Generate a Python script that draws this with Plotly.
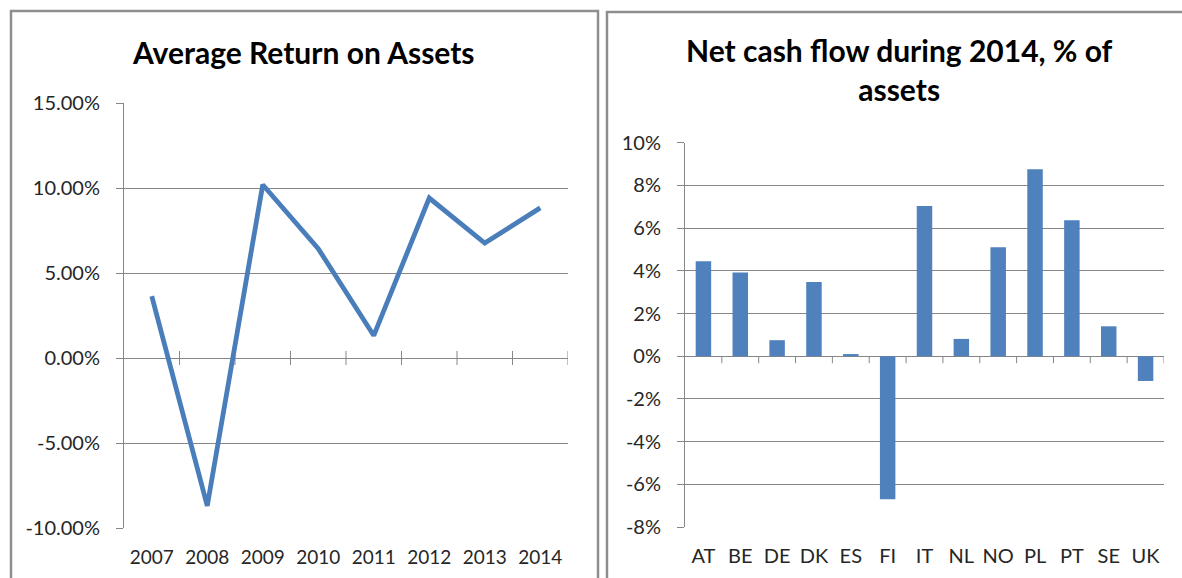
import plotly.graph_objects as go

# ---- data ----
years = ["2007", "2008", "2009", "2010", "2011", "2012", "2013", "2014"]
avg_roa = [0.0364, -0.087, 0.1019, 0.0643, 0.0132, 0.0941, 0.0676, 0.0883]
roa_ticks = [-0.10, -0.05, 0.0, 0.05, 0.10, 0.15]
roa_tick_labels = ["-10.00%", "-5.00%", "0.00%", "5.00%", "10.00%", "15.00%"]

countries = ["AT", "BE", "DE", "DK", "ES", "FI", "IT", "NL", "NO", "PL", "PT", "SE", "UK"]
net_cash_flow = [0.0445, 0.0392, 0.0075, 0.0347, 0.0010, -0.0670, 0.0703, 0.0081,
                 0.0510, 0.0876, 0.0637, 0.0140, -0.0116]
ncf_ticks = [-0.08, -0.06, -0.04, -0.02, 0.0, 0.02, 0.04, 0.06, 0.08, 0.10]
ncf_tick_labels = ["-8%", "-6%", "-4%", "-2%", "0%", "2%", "4%", "6%", "8%", "10%"]

title_left = "Average Return on Assets"
title_right = "Net cash flow during 2014, % of<br>assets"

# ---- style ----
W, H = 1182, 578
BLUE_LINE = "#4A7EBB"
BLUE_BAR = "#4F81BD"
GRID = "#868686"
BORDER = "#8E8E8E"
FONT = "Lato"
TICK_COLOR = "#262626"

def px(x):
    return x / W

def py(y):
    return 1 - y / H

fig = go.Figure()

fig.add_trace(go.Scatter(
    x=years, y=avg_roa, mode="lines",
    line=dict(color=BLUE_LINE, width=4.8),
    xaxis="x", yaxis="y", showlegend=False, hoverinfo="x+y",
))

fig.add_trace(go.Bar(
    x=countries, y=net_cash_flow,
    marker=dict(color=BLUE_BAR, line=dict(width=0)),
    xaxis="x2", yaxis="y2", showlegend=False,
))

year_font = dict(family=FONT, size=19, color=TICK_COLOR)
axis_font = dict(family=FONT, size=20, color=TICK_COLOR)

fig.update_layout(
    width=W, height=H,
    margin=dict(l=0, r=0, t=0, b=0),
    paper_bgcolor="white", plot_bgcolor="white",
    bargap=0.58,
    xaxis=dict(
        domain=[px(124), px(568)], anchor="y", type="category",
        range=[-0.5, len(years) - 0.5], automargin=False,
        showgrid=False, zeroline=False, showline=False,
        ticks="", tickfont=year_font, ticklabelstandoff=16,
    ),
    yaxis=dict(
        domain=[py(528), py(103)], anchor="x", automargin=False,
        range=[-0.10, 0.15], tickmode="array",
        tickvals=roa_ticks, ticktext=roa_tick_labels,
        showgrid=True, gridcolor=GRID, gridwidth=1,
        zeroline=True, zerolinecolor=GRID, zerolinewidth=1,
        showline=True, linecolor=GRID, linewidth=1,
        ticks="outside", ticklen=7, tickcolor=GRID,
        tickfont=axis_font, ticklabelstandoff=12,
    ),
    xaxis2=dict(
        domain=[px(685), px(1164)], anchor="y2", type="category",
        range=[-0.5, len(countries) - 0.5], automargin=False,
        showgrid=False, zeroline=False, showline=False,
        ticks="", tickfont=axis_font, ticklabelstandoff=15,
    ),
    yaxis2=dict(
        domain=[py(527), py(142.7)], anchor="x2", automargin=False,
        range=[-0.08, 0.10], tickmode="array",
        tickvals=ncf_ticks, ticktext=ncf_tick_labels,
        showgrid=True, gridcolor=GRID, gridwidth=1,
        zeroline=True, zerolinecolor=GRID, zerolinewidth=1,
        showline=True, linecolor=GRID, linewidth=1,
        ticks="outside", ticklen=7, tickcolor=GRID,
        tickfont=axis_font, ticklabelstandoff=12,
    ),
)

# category-boundary tick marks on the zero line
shapes = []
for i in range(len(years)):
    shapes.append(dict(type="line", xref="x", yref="y", ysizemode="pixel",
                       yanchor=0, x0=i + 0.5, x1=i + 0.5, y0=-7, y1=7,
                       line=dict(color=GRID, width=1), layer="below"))
for i in range(len(countries)):
    shapes.append(dict(type="line", xref="x2", yref="y2", ysizemode="pixel",
                       yanchor=0, x0=i + 0.5, x1=i + 0.5, y0=-7, y1=0,
                       line=dict(color=GRID, width=1), layer="below"))

# chart-area borders
shapes.append(dict(type="rect", xref="paper", yref="paper",
                   x0=px(11), x1=px(598), y0=-0.1, y1=py(11),
                   line=dict(color=BORDER, width=2.5), fillcolor="rgba(0,0,0,0)"))
shapes.append(dict(type="rect", xref="paper", yref="paper",
                   x0=px(607), x1=1.1, y0=-0.1, y1=py(12),
                   line=dict(color=BORDER, width=2.5), fillcolor="rgba(0,0,0,0)"))
fig.update_layout(shapes=shapes)

title_font = dict(family=FONT, size=30, color="black")
fig.add_annotation(text="<b>" + title_left + "</b>", xref="paper", yref="paper",
                   x=px(304), y=py(52), xanchor="center", yanchor="middle",
                   showarrow=False, font=title_font)
fig.add_annotation(text="<b>" + title_right + "</b>", xref="paper", yref="paper",
                   x=px(899), y=py(70), xanchor="center", yanchor="middle",
                   showarrow=False, font=title_font)

fig.write_html(
    "out.html",
    config={"displayModeBar": False},
    post_script="document.body.style.margin='0';document.body.style.overflow='hidden';",
)
